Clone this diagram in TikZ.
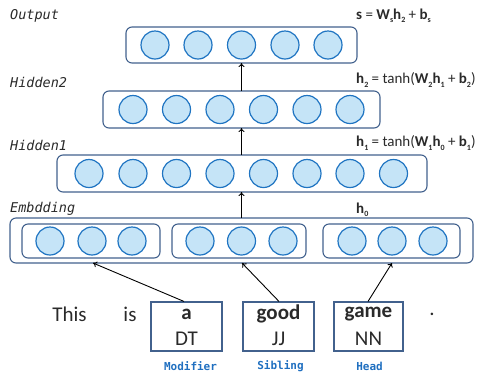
\documentclass[tikz,border=0pt]{standalone}
\usepackage{fontspec}
\setmainfont{Carlito}
\setmonofont{DejaVu Sans Mono}
\usetikzlibrary{arrows.meta}
\definecolor{boxc}{HTML}{42618D}
\definecolor{circf}{HTML}{C5E4F7}
\definecolor{circd}{HTML}{1F74C2}
\definecolor{lblc}{HTML}{2A2A2A}
\definecolor{rolec}{HTML}{1F6FC0}
\newcommand\vsb[2]{\textbf{#1}\raisebox{-0.45ex}{\fontsize{8}{8}\selectfont\bfseries #2}}
\tikzset{
  unit/.style={circle, draw=circd, fill=circf, line width=1.2pt, minimum size=28pt, inner sep=0pt},
  layerbox/.style={draw=boxc, rounded corners=6pt, line width=1.1pt},
  layerlbl/.style={anchor=west, font=\ttfamily\itshape\fontsize{13.5}{13.5}\selectfont, text=lblc, inner sep=0pt},
  eqlbl/.style={anchor=west, font=\fontsize{15}{15}\selectfont, text=lblc, inner sep=0pt},
  word/.style={font=\fontsize{21}{21}\selectfont, text=lblc, inner sep=0pt},
  wordbox/.style={draw=boxc, line width=1.1pt, minimum width=#1, minimum height=49pt, inner sep=0pt},
  role/.style={font=\ttfamily\bfseries\fontsize{11}{11}\selectfont, text=rolec, inner sep=0pt},
  conn/.style={-{To[length=4pt,width=6pt]}, line width=0.9pt, black},
}
\begin{document}
\begin{tikzpicture}[x=1pt,y=-1pt]
\useasboundingbox (0,0) rectangle (478,373);
% layer labels
\node[layerlbl] (lo) at (10,16) {Output};
\node[layerlbl] (lh2) at (10,82) {Hidden2};
\node[layerlbl] (lh1) at (10,145) {Hidden1};
\node[layerlbl] (le) at (10,209) {Embdding};
% equations
\node[eqlbl] (eo) at (356,16) {\textbf{s} = \vsb{W}{s}\vsb{h}{2} + \vsb{b}{s}};
\node[eqlbl] (eh2) at (356,80) {\vsb{h}{2} = tanh(\vsb{W}{2}\vsb{h}{1} + \vsb{b}{2})};
\node[eqlbl] (eh1) at (356,143) {\vsb{h}{1} = tanh(\vsb{W}{1}\vsb{h}{0} + \vsb{b}{1})};
\node[eqlbl] (eh0) at (356,210) {\vsb{h}{0}};
% output layer
\draw[layerbox] (126,27) rectangle (357,63);
\node[coordinate] (otop) at (241.5,27) {};
\node[coordinate] (obot) at (241.5,63) {};
\foreach \i/\x in {1/155,2/198,3/241.5,4/285,5/328}
  \node[unit] (o\i) at (\x,45) {};
% hidden2
\draw[layerbox] (103,91) rectangle (380,128);
\node[coordinate] (h2top) at (241.5,91) {};
\node[coordinate] (h2bot) at (241.5,128) {};
\foreach \i/\x in {1/133,2/176.5,3/220,4/263.5,5/307,6/350}
  \node[unit] (ha\i) at (\x,109.5) {};
% hidden1
\draw[layerbox] (57,155) rectangle (427,192);
\node[coordinate] (h1top) at (241.5,155) {};
\node[coordinate] (h1bot) at (241.5,192) {};
\foreach \i/\x in {1/89,2/133,3/176.5,4/220,5/263.5,6/307,7/350,8/393.5}
  \node[unit] (hb\i) at (\x,173.5) {};
% embedding
\draw[layerbox] (10,218) rectangle (473,263);
\node[coordinate] (etop) at (241.5,218) {};
\draw[layerbox] (22,224) rectangle (160,258);
\draw[layerbox] (172,224) rectangle (306,258);
\draw[layerbox] (323,224) rectangle (460,258);
\foreach \i/\x in {1/50,2/92,3/132,4/200,5/241.5,6/283,7/352,8/392,9/433}
  \node[unit] (e\i) at (\x,241) {};
\node[coordinate] (ein1) at (93,263) {};
\node[coordinate] (ein2) at (242,263) {};
\node[coordinate] (ein3) at (392,263) {};
% arrows between layers
\draw[conn] (h2top) -- (obot);
\draw[conn] (h1top) -- (h2bot);
\draw[conn] (etop) -- (h1bot);
% words
\node[word] (w1) at (69.5,314) {This};
\node[word] (w2) at (130,314) {is};
\node[wordbox=71pt] (b1) at (186.5,326.5) {};
\node[wordbox=71pt] (b2) at (278.5,326.5) {};
\node[wordbox=69pt] (b3) at (368.5,326.5) {};
\node[word, font=\bfseries\fontsize{21}{21}\selectfont] (t1) at (186.5,314) {a};
\node[word] (p1) at (186.5,338.5) {DT};
\node[word, font=\bfseries\fontsize{21}{21}\selectfont] (t2) at (278.5,314) {good};
\node[word] (p2) at (278.5,338.5) {JJ};
\node[word, font=\bfseries\fontsize{21}{21}\selectfont] (t3) at (368.5,314) {game};
\node[word] (p3) at (368.5,338.5) {NN};
\node[word] (dot) at (432,314) {.};
% roles
\node[role] (r1) at (190.5,366) {Modifier};
\node[role] (r2) at (280.5,366) {Sibling};
\node[role] (r3) at (369.5,366) {Head};
% connectors
\draw[conn] (b1.north -| 184,0) -- (ein1);
\draw[conn] (b2.north -| 279,0) -- (ein2);
\draw[conn] (b3.north -| 368,0) -- (ein3);
\end{tikzpicture}
\end{document}
